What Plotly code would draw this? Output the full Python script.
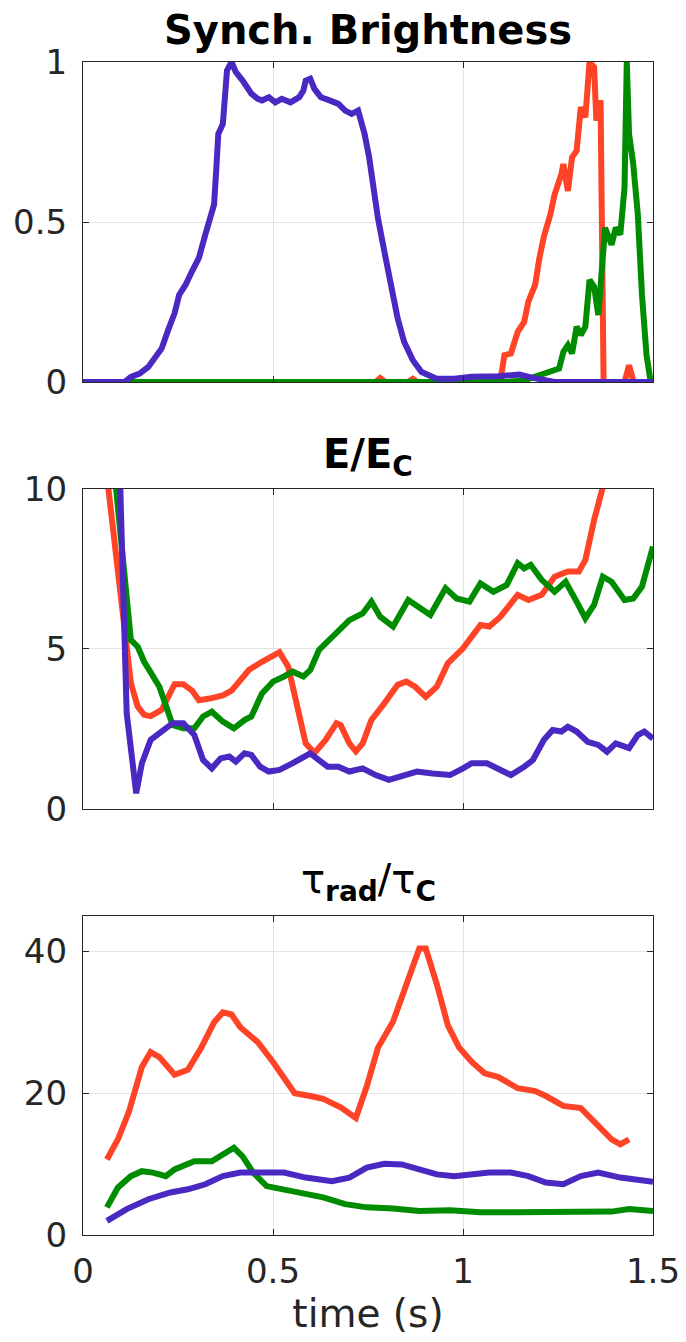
import plotly.graph_objects as go

# ---- Synch. Brightness (normalised) ----
sb_purple_t = [0.0, 0.109, 0.126, 0.149, 0.172, 0.190, 0.207, 0.224, 0.241, 0.253, 0.270, 0.287, 0.305, 0.322,
               0.333, 0.345, 0.351, 0.356, 0.368, 0.374, 0.379, 0.391, 0.402, 0.420, 0.431, 0.443, 0.460, 0.471,
               0.489, 0.506, 0.523, 0.546, 0.569, 0.580, 0.586, 0.598, 0.609, 0.626, 0.649, 0.672, 0.690, 0.707,
               0.724, 0.741, 0.753, 0.764, 0.776, 0.793, 0.810, 0.828, 0.845, 0.868, 0.891, 0.931, 0.977, 1.023,
               1.092, 1.149, 1.184, 1.241, 1.299, 1.5]
sb_purple_v = [0.0, 0.0, 0.016, 0.026, 0.047, 0.079, 0.105, 0.162, 0.215, 0.272, 0.304, 0.346, 0.388, 0.461,
               0.513, 0.555, 0.670, 0.775, 0.806, 0.880, 0.974, 1.0, 0.969, 0.942, 0.921, 0.901, 0.885, 0.880,
               0.890, 0.874, 0.885, 0.874, 0.890, 0.911, 0.942, 0.948, 0.916, 0.890, 0.880, 0.869, 0.848, 0.838,
               0.848, 0.775, 0.702, 0.607, 0.513, 0.408, 0.304, 0.199, 0.126, 0.068, 0.031, 0.010, 0.010, 0.016,
               0.018, 0.023, 0.013, 0.0, 0.0, 0.0]

sb_red_t = [0.0, 0.770, 0.782, 0.795, 0.855, 0.868, 0.880, 1.098, 1.109, 1.126, 1.144, 1.161, 1.172, 1.190, 1.201,
            1.213, 1.230, 1.241, 1.259, 1.264, 1.276, 1.287, 1.299, 1.310, 1.322, 1.333, 1.345, 1.351, 1.362,
            1.370, 1.425, 1.437, 1.449, 1.5]
sb_red_v = [0.0, 0.0, 0.012, 0.0, 0.0, 0.010, 0.0, 0.0, 0.084, 0.089, 0.157, 0.188, 0.251, 0.304, 0.387,
            0.455, 0.524, 0.586, 0.649, 0.681, 0.597, 0.702, 0.723, 0.859, 0.827, 1.0, 0.984, 0.817, 0.880,
            0.0, 0.0, 0.052, 0.0, 0.0]

sb_green_t = [0.0, 1.115, 1.161, 1.218, 1.253, 1.264, 1.276, 1.287, 1.299, 1.310, 1.322, 1.333, 1.345, 1.356,
              1.374, 1.391, 1.402, 1.414, 1.425, 1.431, 1.437, 1.448, 1.460, 1.471, 1.483, 1.494, 1.5]
sb_green_v = [0.0, 0.0, 0.005, 0.026, 0.042, 0.094, 0.115, 0.089, 0.173, 0.147, 0.173, 0.319, 0.298, 0.209,
              0.482, 0.429, 0.482, 0.461, 0.607, 1.0, 0.775, 0.681, 0.524, 0.272, 0.084, 0.0, 0.0]

# ---- E / E_C ----
ee_red_t = [0.063, 0.103, 0.126, 0.144, 0.161, 0.178, 0.207, 0.241, 0.264, 0.287, 0.305, 0.333, 0.368, 0.391,
            0.437, 0.471, 0.517, 0.540, 0.586, 0.609, 0.638, 0.667, 0.678, 0.701, 0.718, 0.736, 0.759, 0.793,
            0.828, 0.851, 0.874, 0.902, 0.931, 0.960, 1.0, 1.046, 1.069, 1.098, 1.144, 1.172, 1.207, 1.241,
            1.276, 1.305, 1.322, 1.345, 1.368, 1.38]
ee_red_v = [10.4, 6.36, 3.93, 3.2, 2.94, 2.9, 3.1, 3.9, 3.9, 3.7, 3.4, 3.45, 3.55, 3.7,
            4.35, 4.6, 4.9, 4.45, 2.05, 1.75, 2.15, 2.68, 2.62, 2.05, 1.8, 2.05, 2.78, 3.3,
            3.88, 3.98, 3.82, 3.5, 3.82, 4.55, 5.02, 5.75, 5.7, 6.0, 6.69, 6.53, 6.69, 7.26,
            7.42, 7.42, 7.78, 9.03, 10.0, 10.6]

ee_green_t = [0.083, 0.126, 0.144, 0.161, 0.201, 0.236, 0.264, 0.293, 0.316, 0.339, 0.368, 0.397, 0.425, 0.443,
              0.471, 0.5, 0.529, 0.552, 0.580, 0.598, 0.621, 0.644, 0.667, 0.701, 0.736, 0.759, 0.782, 0.816,
              0.856, 0.885, 0.914, 0.954, 0.983, 1.017, 1.046, 1.080, 1.115, 1.144, 1.161, 1.178, 1.207, 1.241,
              1.270, 1.299, 1.322, 1.345, 1.368, 1.391, 1.425, 1.448, 1.471, 1.5]
ee_green_v = [10.5, 5.28, 5.07, 4.6, 3.82, 2.62, 2.52, 2.52, 2.89, 3.04, 2.73, 2.52, 2.78, 2.89,
              3.61, 3.98, 4.14, 4.29, 4.14, 4.34, 4.97, 5.23, 5.54, 5.9, 6.11, 6.48, 6.01, 5.7,
              6.53, 6.32, 6.06, 6.9, 6.58, 6.48, 7.05, 6.79, 7.0, 7.68, 7.52, 7.63, 7.16, 6.79,
              7.1, 6.48, 5.96, 6.38, 7.26, 7.1, 6.53, 6.58, 6.95, 8.2]

ee_purple_t = [0.097, 0.115, 0.140, 0.155, 0.178, 0.207, 0.236, 0.264, 0.293, 0.316, 0.339, 0.362, 0.385, 0.402,
               0.425, 0.443, 0.466, 0.489, 0.517, 0.552, 0.575, 0.598, 0.621, 0.644, 0.672, 0.701, 0.736, 0.770,
               0.805, 0.839, 0.879, 0.920, 0.966, 1.0, 1.023, 1.063, 1.092, 1.126, 1.161, 1.184, 1.213, 1.236,
               1.259, 1.276, 1.299, 1.328, 1.356, 1.379, 1.402, 1.437, 1.460, 1.477, 1.5]
ee_purple_v = [10.5, 2.99, 0.49, 1.43, 2.16, 2.42, 2.68, 2.68, 2.31, 1.53, 1.27, 1.58, 1.64, 1.48,
               1.74, 1.69, 1.32, 1.17, 1.22, 1.43, 1.58, 1.74, 1.53, 1.32, 1.32, 1.17, 1.27, 1.06,
               0.91, 1.01, 1.17, 1.11, 1.06, 1.27, 1.43, 1.43, 1.27, 1.06, 1.32, 1.53, 2.16, 2.47,
               2.42, 2.57, 2.42, 2.1, 2.0, 1.79, 2.05, 1.9, 2.31, 2.42, 2.2]

# ---- tau_rad / tau_C ----
tr_red_t = [0.063, 0.092, 0.121, 0.155, 0.178, 0.201, 0.241, 0.276, 0.310, 0.345, 0.368, 0.391, 0.414, 0.460,
            0.5, 0.557, 0.598, 0.632, 0.678, 0.718, 0.747, 0.776, 0.816, 0.856, 0.885, 0.902, 0.931, 0.960,
            0.989, 1.023, 1.057, 1.092, 1.144, 1.190, 1.218, 1.264, 1.310, 1.345, 1.391, 1.414, 1.437]
tr_red_v = [10.65, 13.5, 17.4, 23.7, 25.8, 25.1, 22.6, 23.3, 26.3, 30.0, 31.4, 31.1, 29.3, 27.2,
            24.4, 20.0, 19.6, 19.2, 18.0, 16.5, 21.0, 26.4, 30.1, 36.0, 40.4, 40.4, 35.4, 29.6,
            26.5, 24.4, 22.8, 22.3, 20.7, 20.3, 19.6, 18.2, 17.9, 16.0, 13.5, 12.8, 13.5]

tr_green_t = [0.063, 0.092, 0.126, 0.155, 0.184, 0.218, 0.241, 0.264, 0.293, 0.339, 0.368, 0.397, 0.420, 0.448,
              0.483, 0.529, 0.586, 0.632, 0.690, 0.747, 0.816, 0.885, 0.966, 1.046, 1.138, 1.230, 1.322, 1.391,
              1.437, 1.5]
tr_green_v = [3.9, 6.7, 8.3, 9.0, 8.8, 8.3, 9.25, 9.7, 10.4, 10.4, 11.35, 12.3, 11.1, 8.8,
              6.9, 6.45, 5.75, 5.3, 4.35, 3.9, 3.74, 3.4, 3.5, 3.2, 3.2, 3.3, 3.4, 3.3,
              3.65, 3.4]

tr_purple_t = [0.063, 0.115, 0.172, 0.230, 0.276, 0.322, 0.368, 0.414, 0.471, 0.529, 0.586, 0.655, 0.701, 0.747,
               0.793, 0.839, 0.885, 0.931, 0.977, 1.023, 1.069, 1.126, 1.172, 1.218, 1.264, 1.310, 1.356, 1.414,
               1.5]
tr_purple_v = [2.0, 3.65, 5.05, 6.0, 6.45, 7.15, 8.3, 8.8, 8.8, 8.8, 8.1, 7.6, 8.1, 9.5,
               10.05, 9.95, 9.25, 8.55, 8.3, 8.55, 8.8, 8.8, 8.3, 7.4, 7.15, 8.3, 8.8, 8.1,
               7.5]

RED = "#FF4326"
GREEN = "#008C00"
PURPLE = "#4A28C2"
LW = 6

fig = go.Figure()

panels = [
    ("x", "y", [(sb_red_t, sb_red_v, RED), (sb_green_t, sb_green_v, GREEN), (sb_purple_t, sb_purple_v, PURPLE)]),
    ("x2", "y2", [(ee_red_t, ee_red_v, RED), (ee_green_t, ee_green_v, GREEN), (ee_purple_t, ee_purple_v, PURPLE)]),
    ("x3", "y3", [(tr_red_t, tr_red_v, RED), (tr_green_t, tr_green_v, GREEN), (tr_purple_t, tr_purple_v, PURPLE)]),
]
for xa, ya, series in panels:
    for t, v, c in series:
        fig.add_trace(go.Scatter(x=t, y=v, mode="lines", xaxis=xa, yaxis=ya,
                                 line=dict(color=c, width=LW), showlegend=False,
                                 hoverinfo="skip"))

FONT = "DejaVu Sans"
AX_COLOR = "#262626"
GRID = "#E3E3E3"

def axis_style(**kw):
    base = dict(showline=True, linecolor=AX_COLOR, linewidth=1.2, mirror="ticks",
                ticks="inside", ticklen=6, tickcolor=AX_COLOR, tickwidth=1,
                showgrid=True, gridcolor=GRID, gridwidth=1, zeroline=False,
                automargin=False,
                tickfont=dict(family=FONT, size=34, color=AX_COLOR))
    base.update(kw)
    return base

x_ticks = dict(range=[0, 1.5], tickvals=[0, 0.5, 1, 1.5])
fig.update_layout(
    template="none",
    width=686, height=1342,
    margin=dict(l=83, r=33, t=62, b=107),
    paper_bgcolor="white", plot_bgcolor="white",
    xaxis=axis_style(domain=[0, 1], anchor="y", showticklabels=False, **x_ticks),
    xaxis2=axis_style(domain=[0, 1], anchor="y2", showticklabels=False, **x_ticks),
    xaxis3=axis_style(domain=[0, 1], anchor="y3", ticktext=["0", "0.5", "1", "1.5"],
                      ticklabelstandoff=6,
                      title=dict(text="time (s)", font=dict(family=FONT, size=39, color=AX_COLOR), standoff=6),
                      **x_ticks),
    yaxis=axis_style(domain=[0.7272, 1.0], anchor="x", range=[0, 1], tickvals=[0, 0.5, 1],
                     ticktext=["0", "0.5", "1"], ticklabelstandoff=8),
    yaxis2=axis_style(domain=[0.3632, 0.6360], anchor="x2", range=[0, 10], tickvals=[0, 5, 10],
                      ticklabelstandoff=8),
    yaxis3=axis_style(domain=[0.0, 0.2720], anchor="x3", range=[0, 45], tickvals=[0, 20, 40],
                      ticklabelstandoff=8),
)

title_font = dict(family=FONT, size=40, color="black")
fig.add_annotation(text="<b>Synch. Brightness</b>", xref="paper", yref="paper", x=0.5, y=1.027,
                   xanchor="center", yanchor="middle", showarrow=False, font=title_font)
fig.add_annotation(text="<b>E/E<sub>C</sub></b>", xref="paper", yref="paper", x=0.5, y=0.663,
                   xanchor="center", yanchor="middle", showarrow=False, font=title_font)
fig.add_annotation(text="τ<sub><b>rad</b></sub>/τ<sub><b>C</b></sub>", xref="paper", yref="paper", x=0.5, y=0.301,
                   xanchor="center", yanchor="middle", showarrow=False, font=title_font)

fig.write_html("out.html")
